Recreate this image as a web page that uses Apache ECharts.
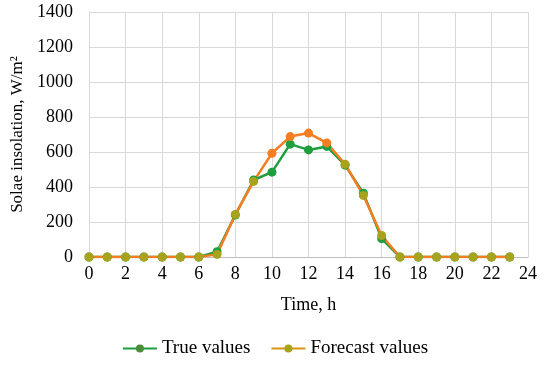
<!DOCTYPE html>
<html><head><meta charset="utf-8">
<script src="https://cdn.jsdelivr.net/npm/echarts@6/dist/echarts.min.js"></script>
<style>html,body{margin:0;padding:0;background:#fff}#c{width:550px;height:368px}</style>
</head><body><div id="c"></div>
<script>
const hours = [0,1,2,3,4,5,6,7,8,9,10,11,12,13,14,15,16,17,18,19,20,21,22,23];
const trueValues = [0,0,0,0,0,0,0,30,240,440,485,645,612,632,525,365,105,0,0,0,0,0,0,0];
const forecastValues = [0,0,0,0,0,0,0,15,243,432,593,688,708,652,530,352,123,0,0,0,0,0,0,0];
const xTicks = [0,2,4,6,8,10,12,14,16,18,20,22,24];
const yTicks = [0,200,400,600,800,1000,1200,1400];

const GREEN = '#1e9e3e', ORANGE = '#f57d22', OLIVE = '#a9a21c';
const font = 'Liberation Serif';
const trueData = hours.map((h,i)=>[h,trueValues[i]]);
const fcData = hours.map((h,i)=>{
  const close = Math.abs(forecastValues[i]-trueValues[i]) < 20;
  return close ? {value:[h,forecastValues[i]], itemStyle:{color:OLIVE}} : [h,forecastValues[i]];
});
const chart = echarts.init(document.getElementById('c'));
chart.setOption({
  animation:false,
  textStyle:{fontFamily:font},
  grid:{left:89,right:22,top:12,bottom:111},
  xAxis:{type:'value',min:xTicks[0],max:xTicks[xTicks.length-1],interval:2,
    name:'Time, h',nameLocation:'middle',nameGap:39,
    nameTextStyle:{fontFamily:font,fontSize:18,color:'#000'},
    axisLine:{lineStyle:{color:'#bfbfbf'}},axisTick:{show:false},
    axisLabel:{fontFamily:font,fontSize:18,color:'#000',margin:8,formatter:v=>String(v)},
    splitLine:{show:true,lineStyle:{color:'#d9d9d9'}}},
  yAxis:{type:'value',min:yTicks[0],max:yTicks[yTicks.length-1],interval:200,
    name:'Solae insolation, W/m\u00b2',nameLocation:'middle',nameGap:54,
    nameTextStyle:{fontFamily:font,fontSize:17,color:'#000'},
    axisLine:{show:true,lineStyle:{color:'#d9d9d9'}},axisTick:{show:false},
    axisLabel:{fontFamily:font,fontSize:18,color:'#000',margin:16,formatter:v=>String(v)},
    splitLine:{show:true,lineStyle:{color:'#d9d9d9'}}},
  legend:{bottom:5,left:'center',itemWidth:34,itemHeight:10,itemGap:20,
    textStyle:{fontFamily:font,fontSize:19,color:'#000'},
    data:[{name:'True values',itemStyle:{color:'#4a8c3a'}},{name:'Forecast values',itemStyle:{color:OLIVE},lineStyle:{color:'#d99412'}}]},
  series:[
    {name:'True values',type:'line',data:trueData,symbol:'circle',symbolSize:9,
      lineStyle:{color:GREEN,width:2.5},itemStyle:{color:GREEN}},
    {name:'Forecast values',type:'line',data:fcData,symbol:'circle',symbolSize:9,
      lineStyle:{color:ORANGE,width:2.5},itemStyle:{color:ORANGE}}
  ]
});
</script></body></html>
